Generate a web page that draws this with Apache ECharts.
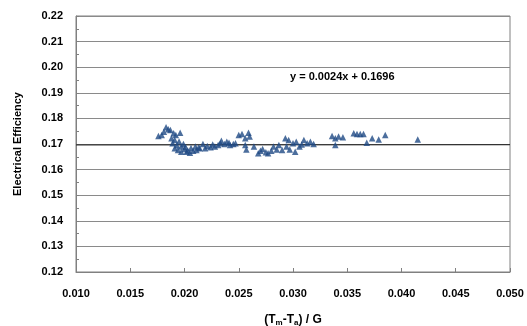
<!DOCTYPE html>
<html>
<head>
<meta charset="utf-8">
<script src="https://cdn.jsdelivr.net/npm/echarts@6/dist/echarts.min.js"></script>
<style>
  html, body { margin: 0; padding: 0; background: #fff; }
  #chart { width: 527px; height: 326px; }
</style>
</head>
<body>
<div id="chart"></div>
<script>
// 测量点 (Tm-Ta)/G 与电效率
const xVals = [
  0.0176, 0.0179, 0.0181, 0.0183, 0.0185, 0.0187, 0.0188, 0.0189, 0.0190, 0.0191,
  0.0191, 0.0192, 0.0193, 0.0194, 0.0195, 0.0196, 0.0197, 0.0197, 0.0199, 0.0200,
  0.0201, 0.0202, 0.0203, 0.0205, 0.0206, 0.0208, 0.0210, 0.0211, 0.0213, 0.0214,
  0.0217, 0.0219, 0.0221, 0.0224, 0.0226, 0.0228, 0.0231, 0.0233, 0.0234, 0.0237,
  0.0239, 0.0241, 0.0242, 0.0245, 0.0247, 0.0250, 0.0253, 0.0256, 0.0256, 0.0257,
  0.0259, 0.0260, 0.0264, 0.0268, 0.0270, 0.0272, 0.0275, 0.0277, 0.0280, 0.0282,
  0.0285, 0.0287, 0.0290, 0.0293, 0.0294, 0.0296, 0.0297, 0.0300, 0.0302, 0.0303,
  0.0306, 0.0308, 0.0310, 0.0313, 0.0316, 0.0319, 0.0336, 0.0339, 0.0339, 0.0342,
  0.0346, 0.0356, 0.0359, 0.0362, 0.0365, 0.0368, 0.0373, 0.0379, 0.0385, 0.0415
];
const effVals = [
  0.1731, 0.1735, 0.1748, 0.1765, 0.1758, 0.1755, 0.1722, 0.1703, 0.1742, 0.1716,
  0.1683, 0.1735, 0.1695, 0.1677, 0.1710, 0.1744, 0.1670, 0.1690, 0.1700, 0.1680,
  0.1688, 0.1670, 0.1675, 0.1666, 0.1684, 0.1674, 0.1690, 0.1677, 0.1686, 0.1683,
  0.1700, 0.1683, 0.1692, 0.1687, 0.1698, 0.1690, 0.1696, 0.1703, 0.1713, 0.1700,
  0.1709, 0.1705, 0.1696, 0.1700, 0.1703, 0.1735, 0.1739, 0.1722, 0.1696, 0.1679,
  0.1744, 0.1729, 0.1690, 0.1664, 0.1674, 0.1680, 0.1668, 0.1664, 0.1674, 0.1690,
  0.1679, 0.1696, 0.1677, 0.1722, 0.1690, 0.1716, 0.1679, 0.1703, 0.1670, 0.1709,
  0.1690, 0.1698, 0.1716, 0.1703, 0.1709, 0.1700, 0.1731, 0.1722, 0.1696, 0.1729,
  0.1726, 0.1742, 0.1739, 0.1739, 0.1739, 0.1705, 0.1722, 0.1718, 0.1735, 0.1718
];
// 线性拟合 y = 0.0024x + 0.1696
const slope = 0.0024;
const intercept = 0.1696;
const xRange = [0.010, 0.050];

const points = xVals.map((x, i) => [x, effVals[i]]);
const fitLine = xRange.map(x => [x, slope * x + intercept]);

const myChart = echarts.init(document.getElementById('chart'));
const labelFont = { fontFamily: 'Liberation Sans, Arial', fontWeight: 'bold', fontSize: 11, color: '#000' };

myChart.setOption({
  animation: false,
  grid: {
    left: 76,
    right: 17,
    top: 16,
    bottom: 54,
    containLabel: false,
    outerBoundsMode: 'none',
    show: true,
    borderColor: '#808080',
    borderWidth: 1
  },
  xAxis: {
    type: 'value',
    min: 0.010,
    max: 0.050,
    interval: 0.005,
    axisLine: { lineStyle: { color: '#808080' } },
    axisTick: { inside: true, length: 4, lineStyle: { color: '#808080' } },
    splitLine: { show: false },
    axisLabel: Object.assign({ margin: 16, formatter: v => v.toFixed(3) }, labelFont),
    name: '{m|(T}{s|m}{m|-T}{s|a}{m|) / G}',
    nameLocation: 'middle',
    nameGap: 41,
    nameTextStyle: {
      rich: {
        m: { fontFamily: 'Liberation Sans, Arial', fontWeight: 'bold', fontSize: 12, color: '#000' },
        s: { fontFamily: 'Liberation Sans, Arial', fontWeight: 'bold', fontSize: 8, color: '#000', verticalAlign: 'bottom', padding: [6, 0, 0, 0] }
      }
    }
  },
  yAxis: {
    type: 'value',
    min: 0.12,
    max: 0.22,
    interval: 0.01,
    axisLine: { show: true, lineStyle: { color: '#808080' } },
    axisTick: { show: true, inside: true, length: 3, lineStyle: { color: '#808080' } },
    minorTick: { show: true, splitNumber: 2, length: 3, lineStyle: { color: '#808080' } },
    splitLine: { show: true, lineStyle: { color: '#8a8a8a', width: 1 } },
    axisLabel: Object.assign({ margin: 13, formatter: v => v.toFixed(2) }, labelFont),
    name: 'Electrical Efficiency',
    nameLocation: 'middle',
    nameGap: 53,
    nameTextStyle: { fontFamily: 'Liberation Sans, Arial', fontWeight: 'bold', fontSize: 11, color: '#000' }
  },
  graphic: [{
    type: 'text',
    left: 290,
    top: 71,
    style: {
      text: 'y = 0.0024x + 0.1696',
      fontFamily: 'Liberation Sans, Arial',
      fontWeight: 'bold',
      fontSize: 11,
      fill: '#000'
    }
  }],
  series: [
    {
      name: '拟合',
      type: 'line',
      data: fitLine,
      symbol: 'none',
      lineStyle: { color: '#333', width: 1.3 },
      z: 1
    },
    {
      name: '数据',
      type: 'scatter',
      data: points,
      symbol: 'triangle',
      symbolSize: 6.5,
      itemStyle: { color: '#1f4a84' },
      z: 3
    }
  ]
});
</script>
</body>
</html>
